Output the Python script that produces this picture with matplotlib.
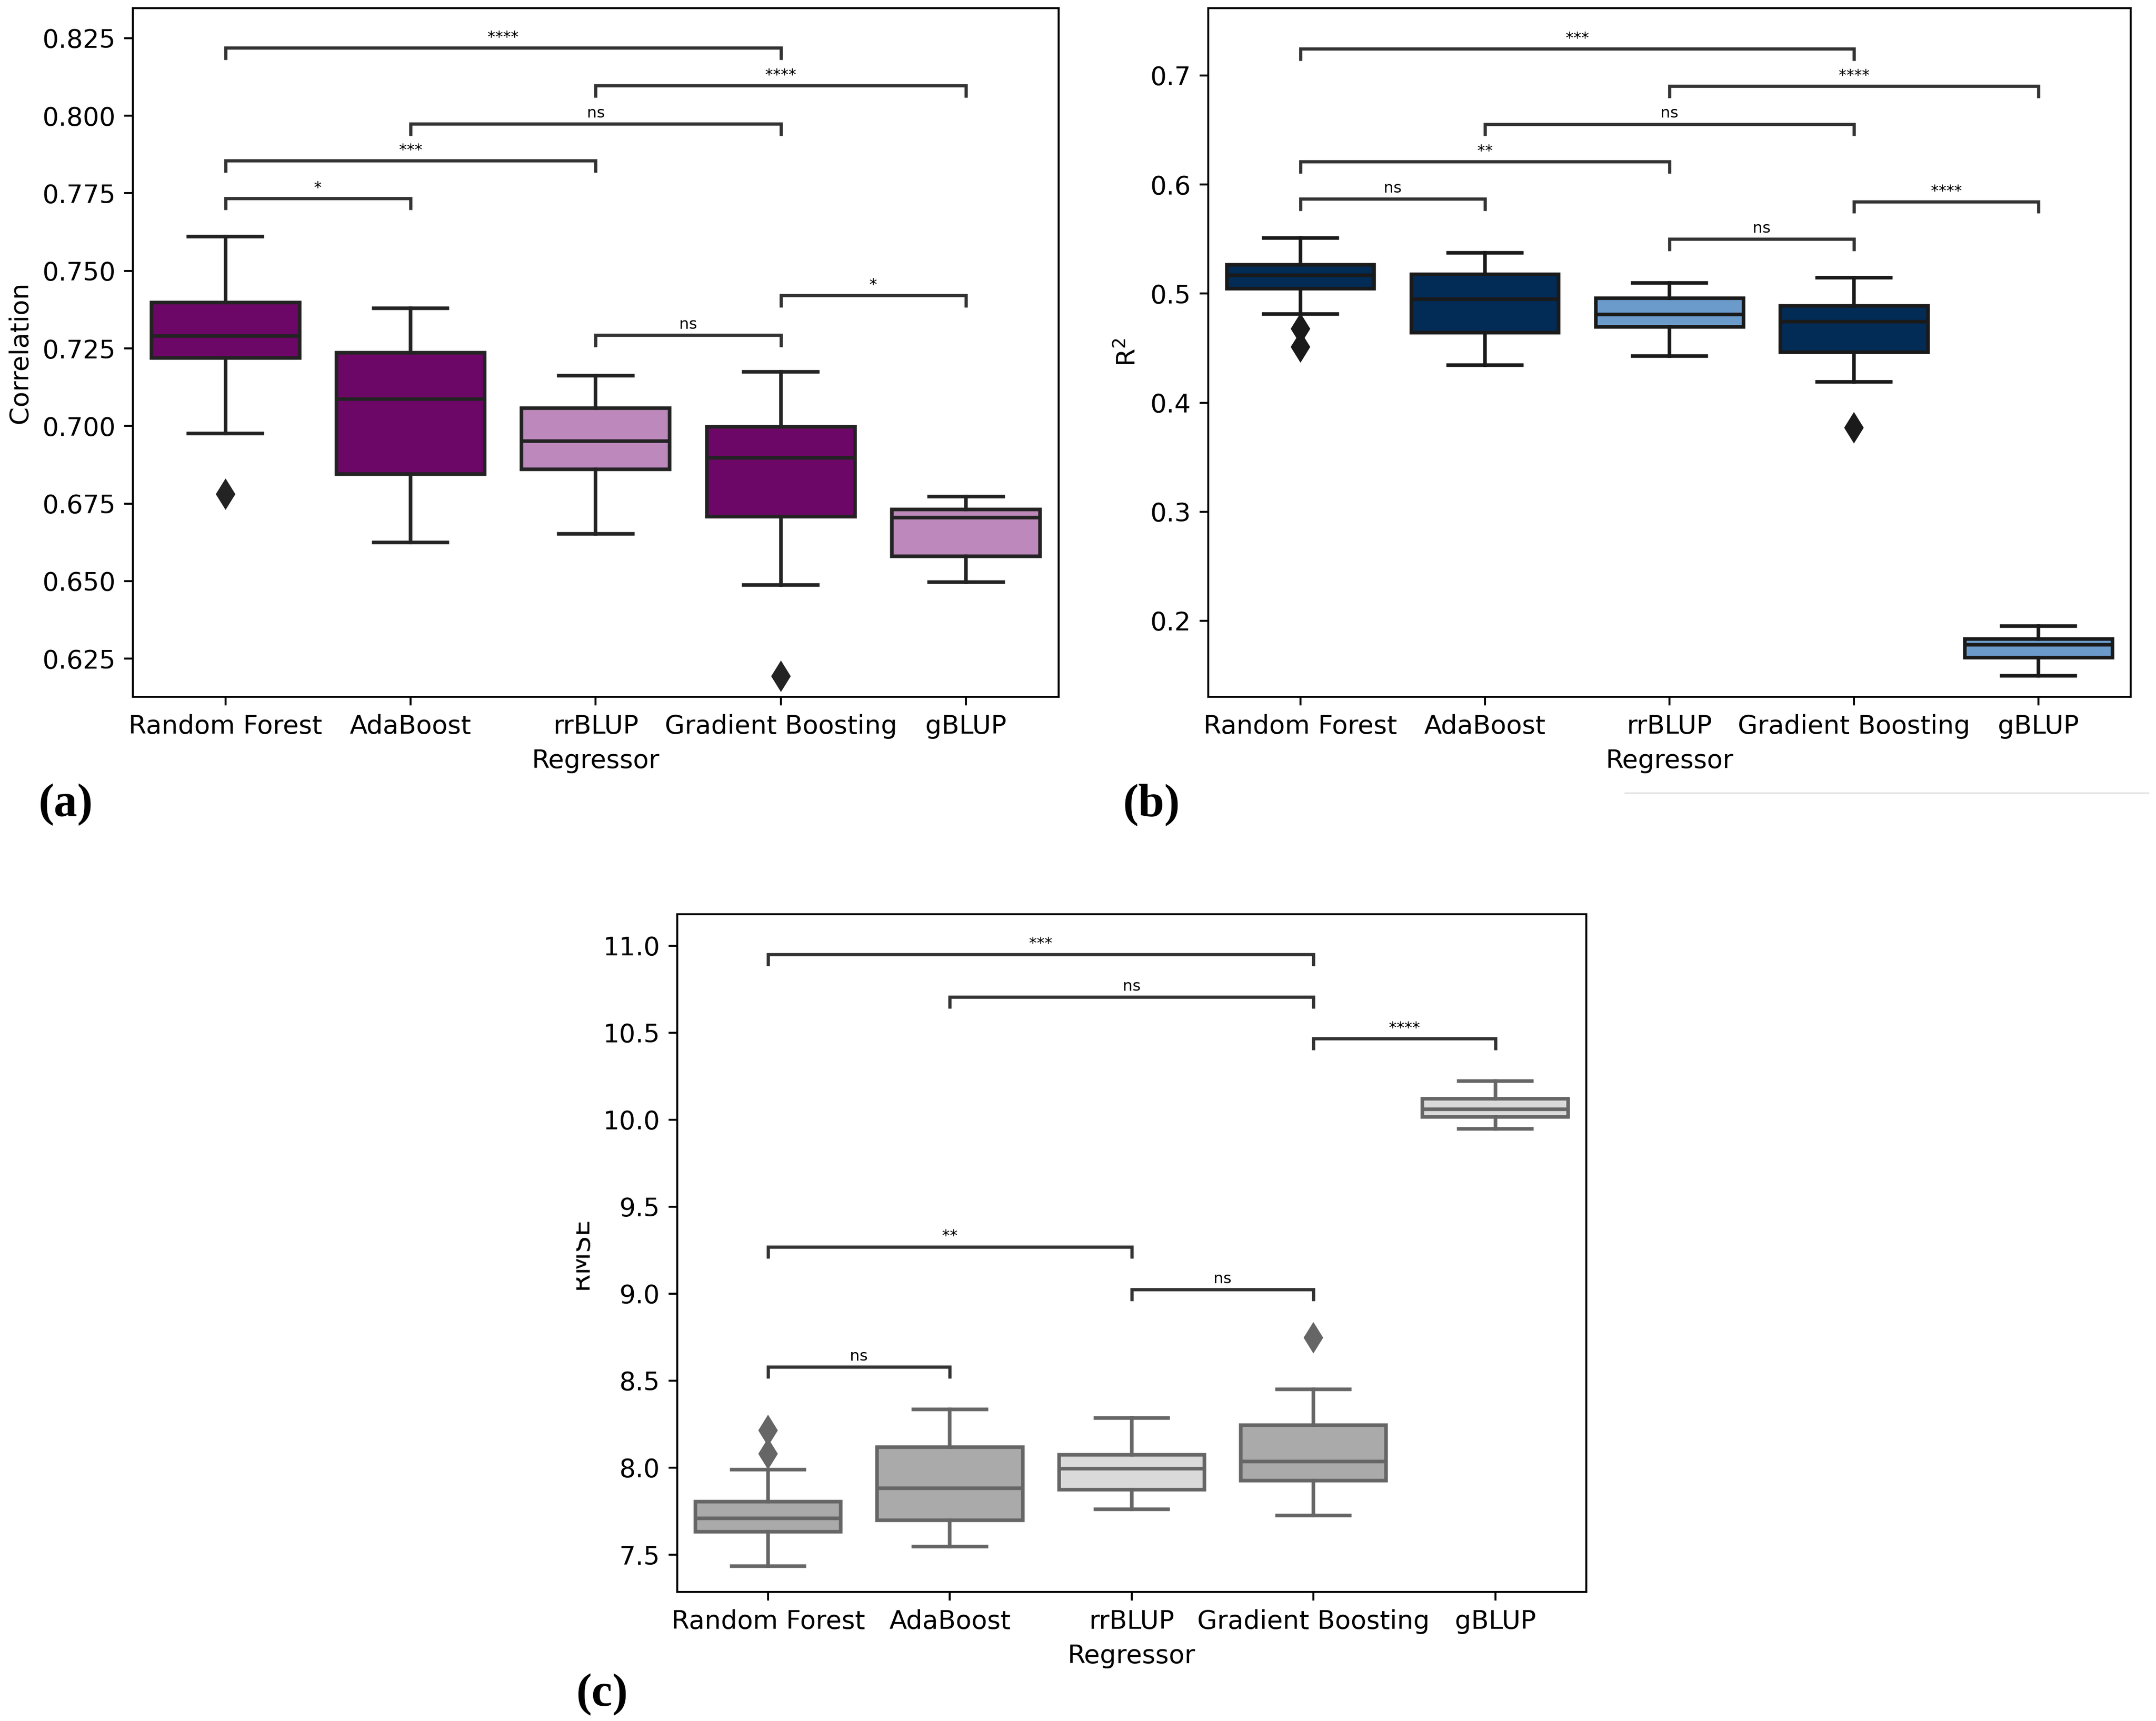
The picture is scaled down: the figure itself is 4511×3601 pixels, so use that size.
import numpy as np
import matplotlib
matplotlib.use("Agg")
import matplotlib.pyplot as plt
from matplotlib.lines import Line2D
from matplotlib.transforms import Bbox

regressors = ["Random Forest", "AdaBoost", "rrBLUP", "Gradient Boosting", "gBLUP"]

# (a) correlation
corr_q1 = [0.7220, 0.6845, 0.6861, 0.6708, 0.6580]
corr_med = [0.7290, 0.7087, 0.6951, 0.6898, 0.6705]
corr_q3 = [0.7398, 0.7236, 0.7057, 0.6998, 0.6731]
corr_lo = [0.6976, 0.6625, 0.6653, 0.6488, 0.6497]
corr_hi = [0.7611, 0.7380, 0.7163, 0.7174, 0.6773]
corr_out = [[0.6780], [], [], [0.6193], []]
corr_pairs = [(0, 1, "*", 0.7734), (0, 2, "***", 0.7855), (1, 3, "ns", 0.7974),
              (2, 4, "****", 0.8097), (0, 3, "****", 0.8219),
              (2, 3, "ns", 0.7293), (3, 4, "*", 0.7421)]

# (b) R2
r2_q1 = [0.5044, 0.4642, 0.4696, 0.4461, 0.1662]
r2_med = [0.5167, 0.4951, 0.4809, 0.4745, 0.1779]
r2_q3 = [0.5265, 0.5176, 0.4956, 0.4887, 0.1833]
r2_lo = [0.4814, 0.4343, 0.4426, 0.4191, 0.1495]
r2_hi = [0.5510, 0.5373, 0.5098, 0.5147, 0.1951]
r2_out = [[0.4676, 0.4510], [], [], [0.3770], []]
r2_pairs = [(0, 1, "ns", 0.5868), (0, 2, "**", 0.6211), (1, 3, "ns", 0.6554),
            (2, 4, "****", 0.6902), (0, 3, "***", 0.7245),
            (2, 3, "ns", 0.5500), (3, 4, "****", 0.5843)]

# (c) RMSE
rmse_q1 = [7.632, 7.699, 7.874, 7.926, 10.015]
rmse_med = [7.709, 7.883, 7.994, 8.037, 10.061]
rmse_q3 = [7.804, 8.117, 8.074, 8.245, 10.120]
rmse_lo = [7.433, 7.546, 7.761, 7.724, 9.948]
rmse_hi = [7.988, 8.334, 8.285, 8.451, 10.221]
rmse_out = [[8.215, 8.080], [], [], [8.748], []]
rmse_pairs = [(0, 1, "ns", 8.580), (0, 2, "**", 9.270), (2, 3, "ns", 9.025),
              (1, 3, "ns", 10.706), (0, 3, "***", 10.951), (3, 4, "****", 10.466)]

FS = 12.9
plt.rcParams['font.family'] = ['DejaVu Sans']
plt.rcParams['font.size'] = FS
plt.rcParams['axes.linewidth'] = 1.0
plt.rcParams['xtick.major.size'] = 4.3
plt.rcParams['ytick.major.size'] = 4.3
plt.rcParams['xtick.major.width'] = 1.0
plt.rcParams['ytick.major.width'] = 1.0
plt.rcParams['xtick.major.pad'] = 4.3
plt.rcParams['ytick.major.pad'] = 4.3
plt.rcParams['axes.labelpad'] = 4.9


def draw_panel(ax, q1, med, q3, lo, hi, out, colors, line, pairs, ylim, yticks, fmt, ylabel):
    stats = []
    for i in range(len(regressors)):
        stats.append(dict(q1=q1[i], med=med[i], q3=q3[i], whislo=lo[i], whishi=hi[i],
                          fliers=np.array(out[i]), label=regressors[i]))
    lw = 1.8
    bp = ax.bxp(stats, positions=range(len(regressors)), widths=0.8, patch_artist=True,
                boxprops=dict(edgecolor=line, linewidth=lw),
                medianprops=dict(color=line, linewidth=lw),
                whiskerprops=dict(color=line, linewidth=lw),
                capprops=dict(color=line, linewidth=lw),
                flierprops=dict(marker='d', markerfacecolor=line, markeredgecolor=line,
                                markersize=10, linestyle='none'))
    for patch, c in zip(bp['boxes'], colors):
        patch.set_facecolor(c)

    ax.set_xlim(-0.5, len(regressors) - 0.5)
    ax.set_ylim(*ylim)
    ax.set_yticks(yticks)
    ax.set_yticklabels([fmt.format(t) for t in yticks])
    ax.set_xticks(range(len(regressors)))
    ax.set_xticklabels(regressors)
    ax.set_xlabel("Regressor")
    ax.set_ylabel(ylabel)

    h = 0.017 * (ylim[1] - ylim[0])
    for i, j, txt, y in pairs:
        ax.plot([i, i, j, j], [y - h, y, y, y - h], color='0.2', lw=1.6,
                solid_capstyle='butt', solid_joinstyle='miter', zorder=3)
        ax.annotate(txt, xy=((i + j) / 2, y), xytext=(0, 1.5), textcoords='offset points',
                    ha='center', va='bottom', fontsize=7.8, color='black')


fig = plt.figure(figsize=(4511 / 300, 3601 / 300), dpi=300)

ax_a = fig.add_axes([0.0616, 0.5951, 0.4294, 0.4002])
ax_b = fig.add_axes([0.5604, 0.5951, 0.4279, 0.4002])
ax_c = fig.add_axes([0.3141, 0.0750, 0.4216, 0.3938])

purple_dark, purple_light = "#6d0767", "#bd88bb"
navy, blue_light = "#022b56", "#6b9bcb"
gray_dark, gray_light = "#aaaaaa", "#dadada"

draw_panel(ax_a, corr_q1, corr_med, corr_q3, corr_lo, corr_hi, corr_out,
           [purple_dark, purple_dark, purple_light, purple_dark, purple_light], "#232323",
           corr_pairs, (0.6127, 0.8347), np.arange(0.625, 0.8251, 0.025), "{:.3f}", "Correlation")

draw_panel(ax_b, r2_q1, r2_med, r2_q3, r2_lo, r2_hi, r2_out,
           [navy, navy, blue_light, navy, blue_light], "#1a1a1a",
           r2_pairs, (0.1303, 0.7618), np.arange(0.2, 0.71, 0.1), "{:.1f}", "R$^2$")

draw_panel(ax_c, rmse_q1, rmse_med, rmse_q3, rmse_lo, rmse_hi, rmse_out,
           [gray_dark, gray_dark, gray_light, gray_dark, gray_light], "#666666",
           rmse_pairs, (7.286, 11.181), np.arange(7.5, 11.01, 0.5), "{:.1f}", "RMSE")

# the RMSE label is cut off on its left side in the source figure:
# keep only the lower ~60% of the letters
fig.canvas.draw()
lab = ax_c.yaxis.label
bb = lab.get_window_extent()
em = FS * fig.dpi / 72
baseline = bb.x1 - 0.22 * em
cut = baseline - 0.6 * 0.729 * em
lab.set_clip_box(Bbox.from_extents(cut, 0, fig.bbox.x1, fig.bbox.y1))
lab.set_clip_on(True)

panel_font = dict(family='Liberation Serif', fontweight='bold', fontsize=23.5, va='center')
fig.text(0.018, 0.5324, "(a)", **panel_font)
fig.text(0.521, 0.5324, "(b)", **panel_font)
fig.text(0.2673, 0.0153, "(c)", **panel_font)

# faint leftover rule under panel (b)
fig.add_artist(Line2D([0.7537, 0.9965], [0.5393, 0.5393], transform=fig.transFigure,
                      color='#e4e4e4', lw=0.8))

fig.savefig("out.png", dpi=300)
